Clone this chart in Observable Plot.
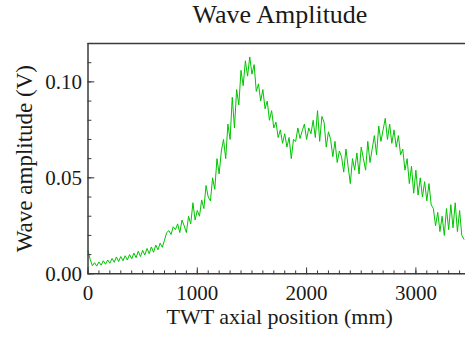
<!DOCTYPE html>
<html><head><meta charset="utf-8">
<script src="https://cdn.jsdelivr.net/npm/d3@7"></script>
<script src="https://cdn.jsdelivr.net/npm/@observablehq/plot@0.6"></script>
<style>
body{margin:0;background:#fff;font-family:"Liberation Serif","Times New Roman",serif;}
#title{height:30px;line-height:30px;font-size:26px;text-align:center;padding-left:95px;width:370px;color:#1a1a1a;}
</style></head><body>
<div id="title">Wave Amplitude</div>
<div id="chart"></div>
<script>
const positions = [0,20,40,60,80,100,120,140,160,180,200,220,240,260,280,300,320,340,360,380,400,420,440,460,480,500,520,540,560,580,600,620,640,660,680,700,720,740,760,780,800,820,840,860,880,900,920,940,960,980,1000,1020,1040,1060,1080,1100,1120,1140,1160,1180,1200,1220,1240,1260,1280,1300,1320,1340,1360,1380,1400,1420,1440,1460,1480,1500,1520,1540,1560,1580,1600,1620,1640,1660,1680,1700,1720,1740,1760,1780,1800,1820,1840,1860,1880,1900,1920,1940,1960,1980,2000,2020,2040,2060,2080,2100,2120,2140,2160,2180,2200,2220,2240,2260,2280,2300,2320,2340,2360,2380,2400,2420,2440,2460,2480,2500,2520,2540,2560,2580,2600,2620,2640,2660,2680,2700,2720,2740,2760,2780,2800,2820,2840,2860,2880,2900,2920,2940,2960,2980,3000,3020,3040,3060,3080,3100,3120,3140,3160,3180,3200,3220,3240,3260,3280,3300,3320,3340,3360,3380,3400,3420,3440];
const amplitudes = [0.0120,0.0075,0.0042,0.0058,0.0040,0.0062,0.0045,0.0068,0.0050,0.0072,0.0055,0.0080,0.0060,0.0088,0.0064,0.0090,0.0068,0.0094,0.0072,0.0100,0.0078,0.0108,0.0084,0.0118,0.0090,0.0122,0.0098,0.0132,0.0105,0.0140,0.0112,0.0150,0.0125,0.0160,0.0138,
0.0175,0.0215,0.0225,0.0205,0.0245,0.0230,0.0260,0.0215,0.0280,0.0250,0.0215,0.0300,0.0260,0.0370,0.0280,0.0330,0.0300,0.0385,0.0340,0.0460,0.0400,0.0380,0.0500,0.0440,0.0600,0.0520,0.0640,0.0700,0.0600,0.0780,0.0700,
0.0920,0.0760,0.0960,0.0880,0.1060,0.0980,0.1110,0.1030,0.1130,0.1040,0.1090,0.0950,0.0990,0.0900,0.0960,0.0860,0.0900,0.0800,0.0850,0.0760,0.0790,0.0710,0.0750,0.0680,0.0730,0.0660,0.0710,
0.0600,0.0700,0.0690,0.0760,0.0705,0.0745,0.0780,0.0700,0.0760,0.0730,0.0800,0.0710,0.0850,0.0690,0.0820,
0.0790,0.0660,0.0740,0.0700,0.0610,0.0690,0.0580,0.0640,0.0610,0.0530,0.0650,0.0560,0.0470,0.0600,0.0540,0.0630,0.0520,0.0660,0.0600,0.0540,0.0690,0.0580,0.0650,0.0720,0.0620,0.0770,0.0690,0.0750,
0.0810,0.0700,0.0780,0.0680,0.0750,0.0660,0.0720,0.0620,0.0650,0.0540,0.0600,0.0470,0.0560,0.0420,0.0540,0.0410,0.0500,0.0400,0.0480,0.0380,0.0470,0.0360,0.0340,0.0250,0.0320,0.0220,0.0300,0.0200,0.0340,0.0230,0.0360,0.0240,0.0370,0.0220,0.0330,0.0200,0.0180];
const xTicks = [0,1000,2000,3000];
const xMinorTicks = [0,100,200,300,400,500,600,700,800,900,1000,1100,1200,1300,1400,1500,1600,1700,1800,1900,2000,2100,2200,2300,2400,2500,2600,2700,2800,2900,3000,3100,3200,3300,3400];
const yTicks = [0,0.05,0.10];
const yMinorTicks = [0,0.01,0.02,0.03,0.04,0.05,0.06,0.07,0.08,0.09,0.10,0.11];
const xDomain = [0,3454];
const yDomain = [0,0.12];

const data = positions.map((p,i)=>({p, a: amplitudes[i]}));
const axisColor = "#3a3a3a";
const tickShape = {draw(context, l){ context.moveTo(0,0); context.lineTo(0,-l); }};
const tickOpts = {stroke: axisColor, strokeWidth: 1, anchor: "start", shape: tickShape};

const chart = Plot.plot({
  width: 465, height: 308,
  marginLeft: 87.5, marginRight: 0, marginTop: 13, marginBottom: 64.7,
  style: {fontFamily: "Liberation Serif, Times New Roman, serif", color: "#1a1a1a", background: "#fff", overflow: "visible"},
  x: {domain: xDomain},
  y: {domain: yDomain},
  marks: [
    Plot.line(data, {x: "p", y: "a", stroke: "#00c400", strokeWidth: 1}),
    Plot.ruleY([yDomain[1]], {stroke: axisColor, strokeWidth: 1.5}),
    Plot.ruleY([yDomain[0]], {stroke: axisColor, strokeWidth: 1.5}),
    Plot.ruleX([xDomain[0]], {stroke: axisColor, strokeWidth: 1.5}),
    Plot.vector(xMinorTicks, {x: d => d, frameAnchor: "bottom", rotate: 0, length: 3, ...tickOpts}),
    Plot.vector(xTicks, {x: d => d, frameAnchor: "bottom", rotate: 0, length: 6, ...tickOpts}),
    Plot.vector(yMinorTicks, {y: d => d, frameAnchor: "left", rotate: 90, length: 3, ...tickOpts}),
    Plot.vector(yTicks, {y: d => d, frameAnchor: "left", rotate: 90, length: 6, ...tickOpts}),
    Plot.axisX(xTicks, {tickSize: 0, tickPadding: 10.8, fontSize: 21, label: null, tickFormat: d => String(d)}),
    Plot.axisY(yTicks, {tickSize: 0, tickPadding: 6, fontSize: 21, label: null, tickFormat: d3.format(".2f")}),
    Plot.text(["TWT axial position (mm)"], {frameAnchor: "bottom", lineAnchor: "bottom", dy: 50, dx: 3, fontSize: 22}),
    Plot.text(["Wave amplitude (V)"], {frameAnchor: "left", textAnchor: "middle", lineAnchor: "bottom", rotate: -90, dx: -56, fontSize: 23})
  ]
});
document.getElementById("chart").appendChild(chart);
</script>
</body></html>
